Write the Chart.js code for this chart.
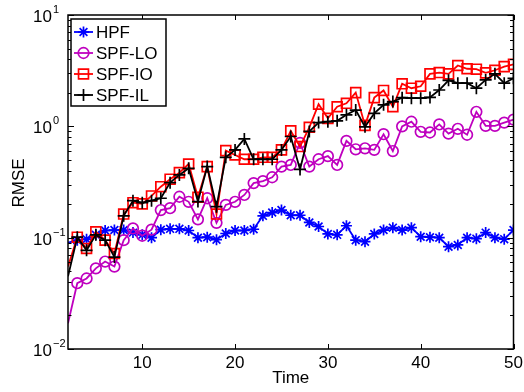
<!DOCTYPE html>
<html>
<head>
<meta charset="utf-8">
<script src="https://cdn.jsdelivr.net/npm/chart.js@4.4.1/dist/chart.umd.min.js"></script>
<style>
  html, body { margin: 0; padding: 0; background: #fff; }
</style>
</head>
<body>
<canvas id="myChart" width="524" height="392"></canvas>
<script>
// time steps (x axis)
const time = [2, 3, 4, 5, 6, 7, 8, 9, 10, 11, 12, 13, 14, 15, 16, 17, 18, 19, 20, 21, 22, 23, 24, 25, 26,
  27, 28, 29, 30, 31, 32, 33, 34, 35, 36, 37, 38, 39, 40, 41, 42, 43, 44, 45, 46, 47, 48, 49, 50];

// RMSE per method
const hpf = [0.090, 0.095, 0.097, 0.106, 0.116, 0.117, 0.117, 0.111, 0.106, 0.100, 0.118, 0.120, 0.120,
  0.116, 0.100, 0.101, 0.096, 0.109, 0.116, 0.116, 0.119, 0.157, 0.168, 0.177, 0.159, 0.159, 0.137,
  0.126, 0.108, 0.106, 0.128, 0.095, 0.092, 0.108, 0.117, 0.123, 0.117, 0.123, 0.102, 0.101, 0.100,
  0.083, 0.086, 0.100, 0.098, 0.111, 0.100, 0.097, 0.117];
const spfLO = [0.017, 0.039, 0.043, 0.053, 0.061, 0.055, 0.095, 0.121, 0.104, 0.118, 0.177, 0.184, 0.233,
  0.210, 0.146, 0.226, 0.136, 0.197, 0.210, 0.242, 0.309, 0.322, 0.349, 0.435, 0.450, 0.710, 0.435,
  0.506, 0.540, 0.450, 0.740, 0.622, 0.635, 0.615, 0.850, 0.600, 1.00, 1.10, 0.893, 0.880, 1.04,
  0.860, 0.950, 0.840, 1.35, 1.01, 1.01, 1.08, 1.15];
const spfIO = [0.055, 0.101, 0.080, 0.113, 0.095, 0.072, 0.163, 0.206, 0.201, 0.237, 0.287, 0.335, 0.384,
  0.459, 0.231, 0.435, 0.163, 0.605, 0.553, 0.506, 0.506, 0.527, 0.527, 0.614, 0.910, 0.658, 0.980,
  1.58, 1.18, 1.50, 1.61, 2.01, 1.02, 1.81, 2.10, 1.50, 2.41, 2.20, 2.29, 2.96, 3.04, 2.96, 3.52,
  3.29, 3.26, 3.02, 3.19, 3.44, 3.60];
const spfIL = [0.045, 0.101, 0.077, 0.106, 0.095, 0.067, 0.157, 0.215, 0.206, 0.215, 0.226, 0.312, 0.366,
  0.420, 0.211, 0.435, 0.190, 0.527, 0.614, 0.770, 0.506, 0.506, 0.506, 0.614, 0.810, 0.410, 0.900,
  1.08, 1.10, 1.12, 1.27, 1.40, 0.99, 1.31, 1.56, 1.67, 1.81, 1.79, 1.79, 1.82, 2.12, 2.59, 2.44,
  2.44, 2.20, 2.61, 2.96, 2.44, 2.70];

const seriesNames = ['HPF', 'SPF-LO', 'SPF-IO', 'SPF-IL'];
const xTicks = [10, 20, 30, 40, 50];
const yTicks = [0.01, 0.1, 1, 10];
const yExp = ['\u22122', '\u22121', '0', '1'];

const FONT = '"Liberation Sans", Arial, Helvetica, sans-serif';
const MAG = 'rgb(191,0,191)';

function pts(arr) {
  return arr.map((v, i) => ({ x: time[i], y: v }));
}
// first sample sits on the left edge, MATLAB shows no marker there
function radius(r) {
  return ctx => (ctx.dataIndex === 0 ? 0 : r);
}

const styles = [
  { color: '#0000ff', pointStyle: 'star', r: 5.5 },
  { color: MAG, pointStyle: 'circle', r: 5.3 },
  { color: '#ff0000', pointStyle: 'rect', r: 7 },
  { color: '#000000', pointStyle: 'cross', r: 6 }
];
const values = [hpf, spfLO, spfIO, spfIL];

const datasets = values.map((arr, i) => ({
  label: seriesNames[i],
  data: pts(arr),
  borderColor: styles[i].color,
  backgroundColor: 'rgba(0,0,0,0)',
  borderWidth: 1.8,
  pointStyle: styles[i].pointStyle,
  pointRadius: radius(styles[i].r),
  pointBorderColor: styles[i].color,
  pointBackgroundColor: 'rgba(0,0,0,0)',
  pointBorderWidth: 1.7,
  tension: 0,
  order: 3 - i
}));

// box, ticks, labels and legend drawn the MATLAB way
const matlabAxes = {
  id: 'matlabAxes',
  afterDraw(chart) {
    const c = chart.ctx;
    const a = chart.chartArea;
    const xs = chart.scales.x, ys = chart.scales.y;
    c.save();
    c.strokeStyle = '#000';
    c.fillStyle = '#000';
    c.lineWidth = 1.5;
    c.strokeRect(a.left, a.top, a.right - a.left, a.bottom - a.top);

    c.lineWidth = 1;
    c.beginPath();
    xTicks.forEach(t => {
      const px = Math.round(xs.getPixelForValue(t)) + 0.5;
      c.moveTo(px, a.bottom); c.lineTo(px, a.bottom - 5);
      c.moveTo(px, a.top); c.lineTo(px, a.top + 5);
    });
    [0.01, 0.1, 1].forEach(d => {
      for (let k = 2; k <= 9; k++) {
        const py = Math.round(ys.getPixelForValue(k * d)) + 0.5;
        c.moveTo(a.left, py); c.lineTo(a.left + 3.5, py);
        c.moveTo(a.right, py); c.lineTo(a.right - 3.5, py);
      }
    });
    yTicks.forEach(v => {
      const py = Math.round(ys.getPixelForValue(v)) + 0.5;
      c.moveTo(a.left, py); c.lineTo(a.left + 6, py);
      c.moveTo(a.right, py); c.lineTo(a.right - 6, py);
    });
    c.stroke();

    // x tick labels
    c.font = '17px ' + FONT;
    c.textAlign = 'center';
    c.textBaseline = 'alphabetic';
    xTicks.forEach(t => c.fillText(String(t), xs.getPixelForValue(t), 368));

    // y tick labels 10^n
    yTicks.forEach((v, i) => {
      const py = ys.getPixelForValue(v);
      c.font = '17px ' + FONT;
      c.textAlign = 'right';
      c.fillText('10', 52, py + 7);
      c.font = '11px ' + FONT;
      c.textAlign = 'left';
      c.fillText(yExp[i], 53, py - 2);
    });

    // axis titles
    c.font = '17px ' + FONT;
    c.textAlign = 'center';
    c.fillText('Time', (a.left + a.right) / 2, 383);
    c.save();
    c.translate(24, 183);
    c.rotate(-Math.PI / 2);
    c.fillText('RMSE', 0, 0);
    c.restore();

    // legend
    const lx = 71, ly = 19, lw = 95, lh = 87;
    c.fillStyle = '#fff';
    c.fillRect(lx, ly, lw, lh);
    c.lineWidth = 1.5;
    c.strokeStyle = '#000';
    c.strokeRect(lx, ly, lw, lh);
    const rows = [32, 53, 74, 95];
    seriesNames.forEach((name, i) => {
      const st = styles[i];
      const y = rows[i];
      c.strokeStyle = st.color;
      c.lineWidth = 1.8;
      c.beginPath();
      c.moveTo(74, y); c.lineTo(93, y);
      c.stroke();
      c.fillStyle = 'rgba(0,0,0,0)';
      c.lineWidth = 1.7;
      Chart.helpers.drawPoint(c, { pointStyle: st.pointStyle, radius: st.r, rotation: 0, borderWidth: 1.7 }, 83.5, y);
      c.fillStyle = '#000';
      c.font = '17px ' + FONT;
      c.textAlign = 'left';
      c.fillText(name, 96, y + 6);
    });
    c.restore();
  }
};

new Chart(document.getElementById('myChart'), {
  type: 'line',
  data: { datasets: datasets },
  options: {
    responsive: false,
    animation: false,
    devicePixelRatio: 1,
    layout: { padding: { left: 68, right: 10.5, top: 15, bottom: 43 } },
    plugins: { legend: { display: false }, tooltip: { enabled: false } },
    scales: {
      x: { type: 'linear', min: 2, max: 50, display: false },
      y: { type: 'logarithmic', min: 0.01, max: 10, display: false }
    }
  },
  plugins: [matlabAxes]
});
</script>
</body>
</html>
